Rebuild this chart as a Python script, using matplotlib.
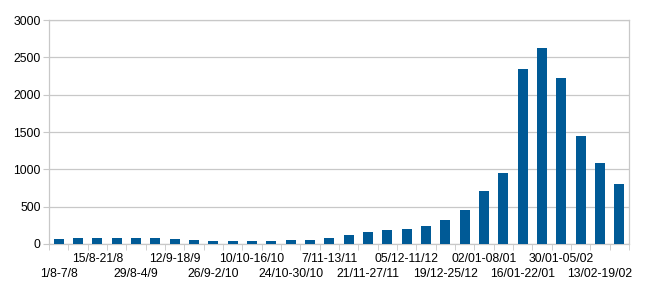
import numpy as np
import matplotlib
matplotlib.use("Agg")
import matplotlib.pyplot as plt

# weekly counts, 1/8-7/8 through 20/02-26/02
values = [71, 85, 80, 75, 87, 75, 62, 54, 40, 40, 36, 40, 54, 58, 85,
          120, 156, 192, 196, 241, 321, 451, 705, 946, 2344, 2629, 2219, 1442, 1080, 799]

# only every second week is labelled on the axis
shown_labels = ["1/8-7/8", "15/8-21/8", "29/8-4/9", "12/9-18/9", "26/9-2/10",
                "10/10-16/10", "24/10-30/10", "7/11-13/11", "21/11-27/11",
                "05/12-11/12", "19/12-25/12", "02/01-08/01", "16/01-22/01",
                "30/01-05/02", "13/02-19/02"]

plt.rcParams['font.family'] = ['Liberation Sans', 'DejaVu Sans']

fig = plt.figure(figsize=(6.5, 2.98), dpi=100)
ax = fig.add_axes([49 / 650, 1 - 244 / 298, 580 / 650, 224 / 298])

x = np.arange(len(values))
ax.bar(x, values, width=0.52, color="#005a96", zorder=3)

ax.set_xlim(-0.5, len(values) - 0.5)
ax.set_ylim(0, 3000)
ax.set_yticks(range(0, 3001, 500))
ax.grid(axis="y", color="#c8c8c8", linewidth=0.9, zorder=0)

# labels under every other bar, staggered in two rows
ax.set_xticks(x[::2])
ax.set_xticklabels(shown_labels)
ax.set_xticks(np.arange(-0.5, len(values)), minor=True)
ax.tick_params(axis="x", which="major", length=0, labelsize=8.8)
ax.tick_params(axis="x", which="minor", length=4, color="#c8c8c8", direction="out")
for i, tick in enumerate(ax.xaxis.get_major_ticks()):
    tick.set_pad(17.0 if i % 2 == 0 else 6.5)

ax.tick_params(axis="y", length=4, color="#c8c8c8", pad=2, labelsize=8.8)

for s in ax.spines.values():
    s.set_color("#c8c8c8")
    s.set_linewidth(0.9)

fig.savefig("out.png", dpi=100)
